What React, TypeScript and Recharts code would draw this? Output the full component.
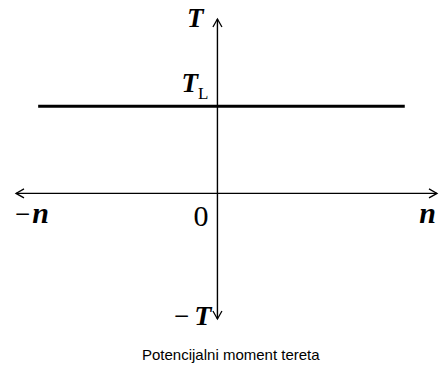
import { LineChart, Line, XAxis, YAxis, ReferenceLine, ReferenceDot } from "recharts";

// axis extents (n to the left/right, T down/up)
const nDomain = [-1, 1.09];
const tDomain = [-0.72, 1];

// load torque line T = T_L
const loadLine = [
  { n: -0.89, T: 0.5 },
  { n: 0.93, T: 0.5 },
];

const caption = "Potencijalni moment tereta";

const serif = "'Liberation Serif', 'Times New Roman', serif";

// double-headed open arrow, drawn by ReferenceLine
const ArrowAxis = (props: any) => {
  const { x1, y1, x2, y2 } = props;
  const dx = x2 - x1;
  const dy = y2 - y1;
  const len = Math.sqrt(dx * dx + dy * dy) || 1;
  const ux = dx / len;
  const uy = dy / len;
  const head = 8;
  const half = 4.5;
  const chev = (tx: number, ty: number, sx: number, sy: number) =>
    `M${tx - sx * head - sy * half},${ty - sy * head + sx * half} L${tx},${ty} L${tx - sx * head + sy * half},${ty - sy * head - sx * half}`;
  return (
    <g>
      <line x1={x1} y1={y1} x2={x2} y2={y2} stroke="#000" strokeWidth={1.4} />
      <path
        d={chev(x2, y2, ux, uy) + " " + chev(x1, y1, -ux, -uy)}
        fill="none"
        stroke="#000"
        strokeWidth={1.3}
      />
    </g>
  );
};

const textAt = (content: React.ReactNode, dx: number, dy: number, anchor: string = "start") =>
  (p: any) => (
    <text x={p.cx + dx} y={p.cy + dy} textAnchor={anchor} fontFamily={serif} fill="#000">
      {content}
    </text>
  );

const bi = { fontWeight: "bold", fontStyle: "italic" } as const;

export default function App() {
  return (
    <div style={{ position: "absolute", left: 0, top: 0, width: 440, height: 369, background: "#fff" }}>
      <LineChart width={440} height={369} data={loadLine} margin={{ top: 19, right: 3, bottom: 50, left: 16 }}>
        <XAxis dataKey="n" type="number" domain={nDomain} allowDataOverflow hide />
        <YAxis dataKey="T" type="number" domain={tDomain} allowDataOverflow hide />
        <ReferenceLine
          segment={[{ x: nDomain[0], y: 0 }, { x: nDomain[1], y: 0 }]}
          shape={ArrowAxis}
          ifOverflow="visible"
        />
        <ReferenceLine
          segment={[{ x: 0, y: tDomain[0] }, { x: 0, y: tDomain[1] }]}
          shape={ArrowAxis}
          ifOverflow="visible"
        />
        <Line
          dataKey="T"
          stroke="#000"
          strokeWidth={3}
          dot={false}
          activeDot={false}
          isAnimationActive={false}
        />
        <ReferenceDot x={0} y={tDomain[1]} r={0} ifOverflow="visible"
          shape={textAt(<tspan {...bi} fontSize={27}>T</tspan>, -14, 8, "end")} />
        <ReferenceDot x={0} y={0.5} r={0} ifOverflow="visible"
          shape={textAt(
            <>
              <tspan {...bi} fontSize={27}>T</tspan>
              <tspan fontSize={17} dy={7}>L</tspan>
            </>,
            -36, -14
          )} />
        <ReferenceDot x={nDomain[0]} y={0} r={0} ifOverflow="visible"
          shape={textAt(
            <>
              <tspan fontSize={27}>−</tspan>
              <tspan {...bi} fontSize={30} dx={2}>n</tspan>
            </>,
            -1, 30
          )} />
        <ReferenceDot x={0} y={0} r={0} ifOverflow="visible"
          shape={textAt(<tspan fontSize={30}>0</tspan>, -9, 33, "end")} />
        <ReferenceDot x={nDomain[1]} y={0} r={0} ifOverflow="visible"
          shape={textAt(<tspan {...bi} fontSize={30}>n</tspan>, -1, 30, "end")} />
        <ReferenceDot x={0} y={tDomain[0]} r={0} ifOverflow="visible"
          shape={textAt(
            <>
              <tspan fontSize={27}>−</tspan>
              <tspan {...bi} fontSize={28} dx={5}>T</tspan>
            </>,
            -6, 6, "end"
          )} />
      </LineChart>
      <div
        style={{
          position: "absolute",
          top: 346,
          left: 142,
          whiteSpace: "nowrap",
          fontFamily: "'Liberation Sans', Arial, sans-serif",
          fontSize: 15,
          color: "#000",
        }}
      >
        {caption}
      </div>
    </div>
  );
}
